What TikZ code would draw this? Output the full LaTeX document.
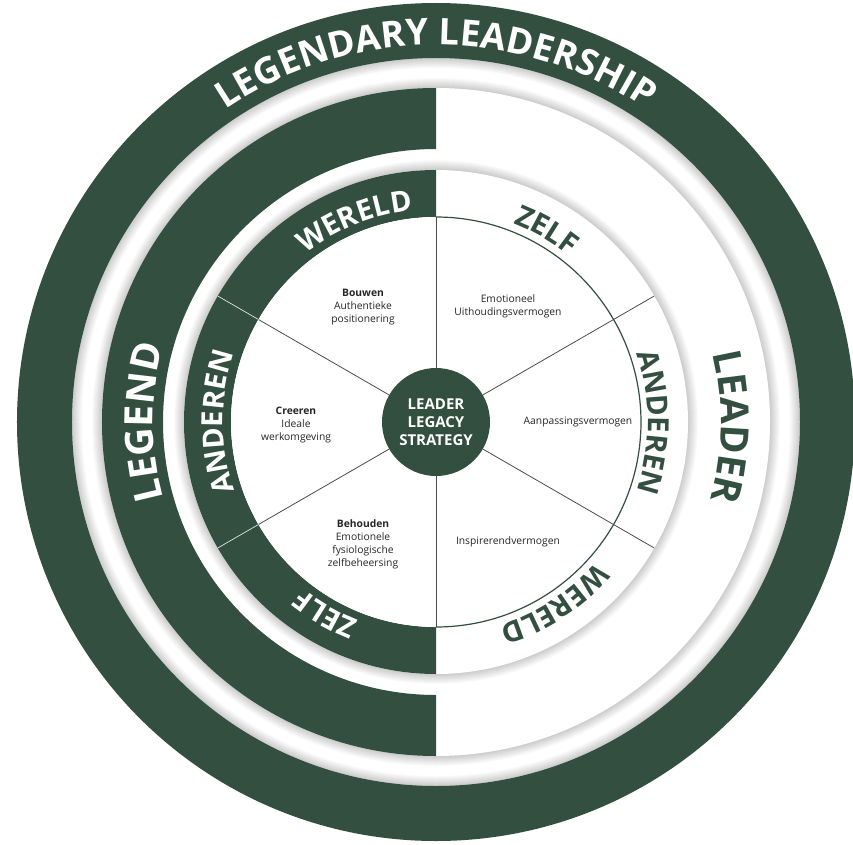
\documentclass[tikz,border=0pt]{standalone}
\usepackage{fontspec}
\setmainfont{Open Sans}
\usetikzlibrary{decorations.text}
\definecolor{dg}{HTML}{334F40}
\newcommand{\arctext}[5]{%
  \path[decorate, decoration={text along path, text align=center, text color=#1,
    text={|\fontsize{#2}{#2}\selectfont\bfseries|#5}}]
    (#4+50:#3) arc[start angle=#4+50, end angle=#4-50, radius=#3];}
\newcommand{\shadowat}[1]{%
  \foreach \w in {2,4,...,20} {\draw[black, opacity=0.018, line width=\w pt] (0,0) circle (#1);}}
\tikzset{
  sect/.style={align=center, text=black!85, font=\fontsize{10.3}{13}\selectfont, inner sep=0pt},
  spoke/.style={draw=black!70, line width=0.8pt},
  lightspoke/.style={draw=white!85!dg, line width=0.7pt},
}
\begin{document}
\begin{tikzpicture}[x=1pt,y=1pt]
\useasboundingbox (-436,-422) rectangle (417,422);
\fill[white] (-436,-422) rectangle (417,422);
% outer ring
\shadowat{364}
\fill[dg, even odd rule] (0,0) circle (419) (0,0) circle (364);
% legend / leader ring
\shadowat{334}
\fill[white] (90:334) arc[start angle=90, end angle=-90, radius=334] -- (-90:273) arc[start angle=-90, end angle=90, radius=273] -- cycle;
\fill[dg] (90:334) arc[start angle=90, end angle=270, radius=334] -- (270:273) arc[start angle=270, end angle=90, radius=273] -- cycle;
% inner disc
\shadowat{252}
\fill[white] (0,0) circle (252);
\fill[dg] (90:252) arc[start angle=90, end angle=270, radius=252] -- (270:205) arc[start angle=270, end angle=90, radius=205] -- cycle;
\fill[white] (0,0) circle (205);
\draw[dg, line width=1.2pt] (90:205) arc[start angle=90, end angle=-90, radius=205];
% centre
\node[circle, fill=dg, minimum size=108pt, inner sep=0pt, text=white, align=center,
  font=\bfseries\fontsize{15}{18}\selectfont] (core) at (0,0) {LEADER\\LEGACY\\STRATEGY};
% spokes
\foreach \a in {30,90,150,210,270,330} {\draw[spoke] (core) -- (\a:205);}
\draw[spoke] (30:205) -- (30:252);
\draw[spoke] (-30:205) -- (-30:252);
\draw[lightspoke] (150:205) -- (150:252);
\draw[lightspoke] (210:205) -- (210:252);
% sector texts
\node[sect] (bouwen) at (-73,115) {\textbf{Bouwen}\\Authentieke\\positionering};
\node[sect] (emo) at (72,116) {Emotioneel\\Uithoudingsvermogen};
\node[sect] (creeren) at (-140,-3) {\textbf{Creeren}\\Ideale\\werkomgeving};
\node[sect] (aanp) at (142,0) {Aanpassingsvermogen};
\node[sect] (behouden) at (-73,-122) {\textbf{Behouden}\\Emotionele\\fysiologische\\zelfbeheersing};
\node[sect] (insp) at (72,-120) {Inspirerendvermogen};
% ring texts
\arctext{white}{36.5}{377}{90}{LEGENDARY LEADERSHIP}
\arctext{white}{39}{283}{180}{LEGEND}
\arctext{dg}{39}{285}{-1}{LEADER}
\arctext{white}{29}{213}{112}{WERELD}
\arctext{white}{29}{213}{180}{ANDEREN}
\arctext{white}{29}{213}{240}{ZELF}
\arctext{dg}{29}{213}{60}{ZELF}
\arctext{dg}{29}{212}{0}{ANDEREN}
\arctext{dg}{29}{213}{-57}{WERELD}
\end{tikzpicture}
\end{document}
